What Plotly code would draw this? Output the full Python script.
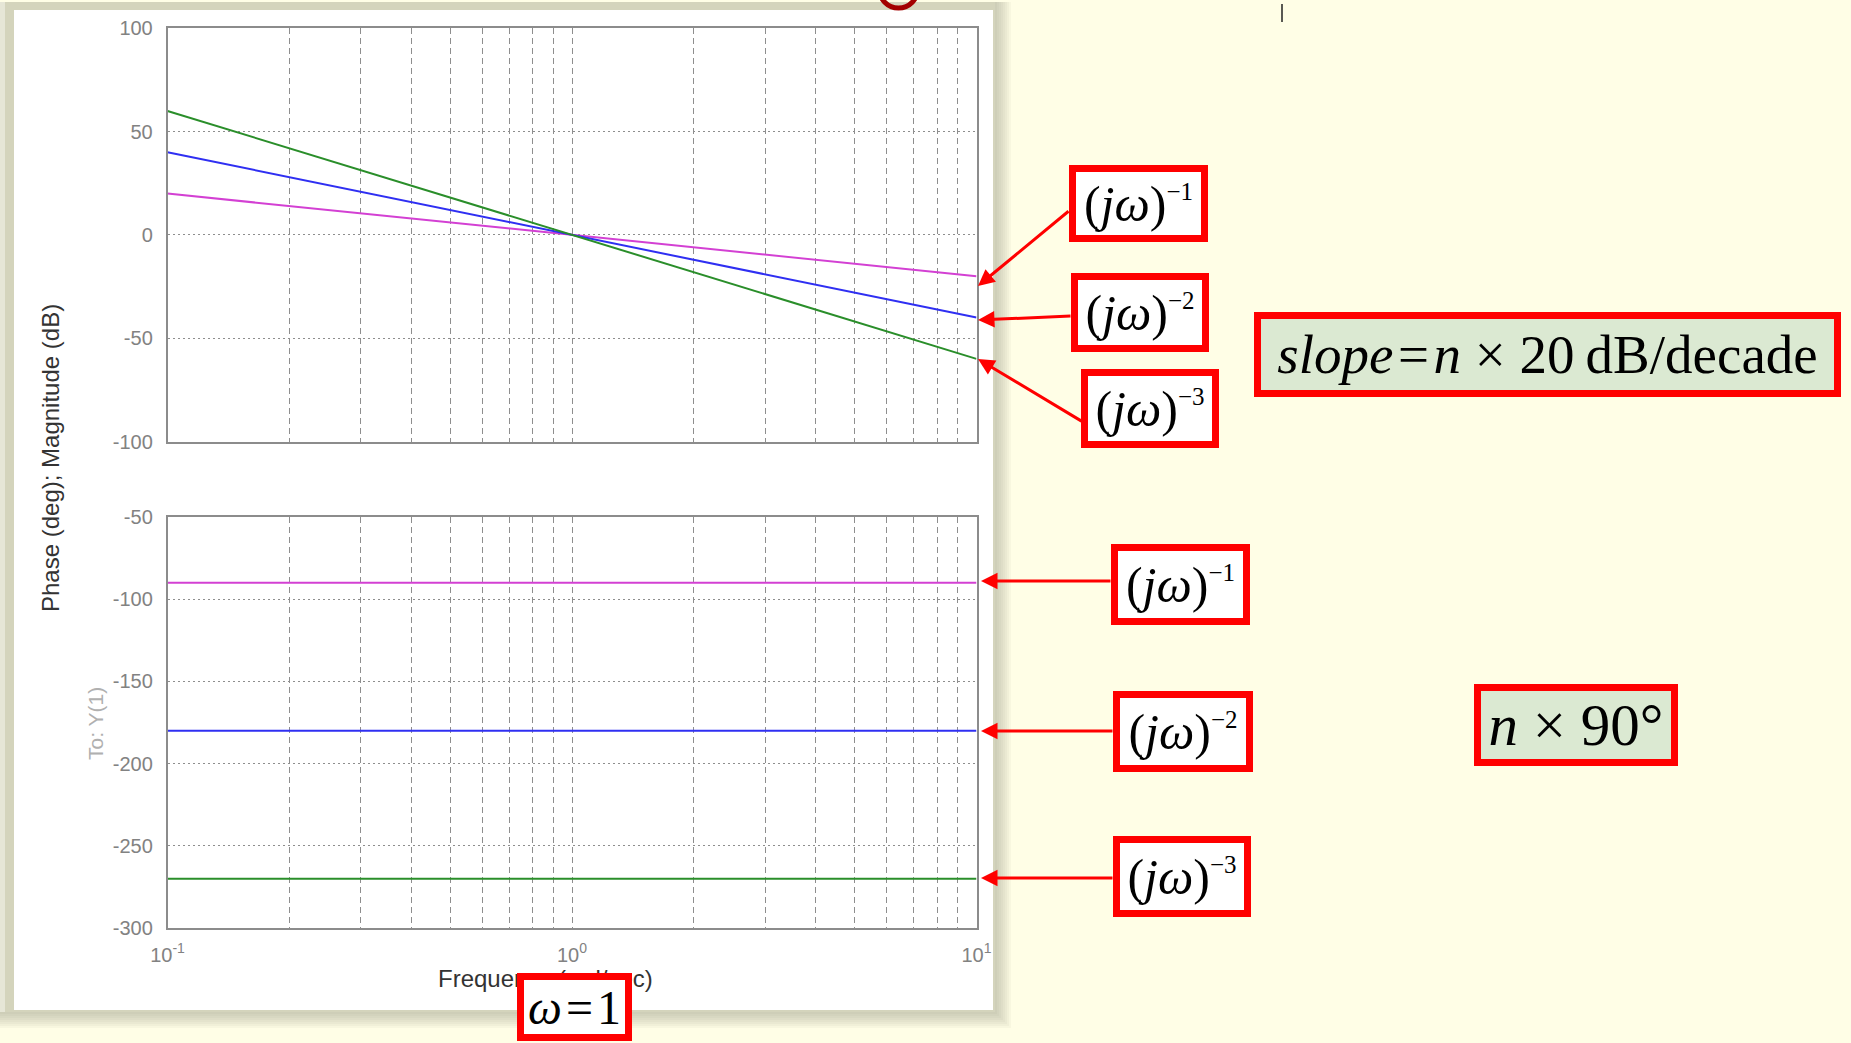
import plotly.graph_objects as go

W, H = 1851, 1043

# ---------------- data ----------------
freq = [0.1, 1, 10]                 # rad/sec
mag_n1 = [20, 0, -20]               # (jw)^-1, dB
mag_n2 = [40, 0, -40]               # (jw)^-2, dB
mag_n3 = [60, 0, -60]               # (jw)^-3, dB
phase_freq = [0.1, 10]
phase_n1 = [-90, -90]               # deg
phase_n2 = [-180, -180]
phase_n3 = [-270, -270]
series_names = ["(jω)^-1", "(jω)^-2", "(jω)^-3"]
series_colors = ["#d340d3", "#2f2ff2", "#2a8e2a"]

mag_ticks = [-100, -50, 0, 50, 100]
mag_tick_text = ["-100", "-50", "0", "50", "100"]
phase_ticks = [-300, -250, -200, -150, -100, -50]
phase_tick_text = ["-300", "-250", "-200", "-150", "-100", "-50"]
x_major = [0.1, 1, 10]
x_major_text = ["10<sup>-1</sup>", "10<sup>0</sup>", "10<sup>1</sup>"]
x_minor = [0.2, 0.3, 0.4, 0.5, 0.6, 0.7, 0.8, 0.9,
           2, 3, 4, 5, 6, 7, 8, 9]

y_title = "Phase (deg); Magnitude (dB)"
x_title = "Frequency (rad/sec)"
out_label = "To: Y(1)"
slope_text = "<i>slope</i>\u200a=\u200a<i>n</i> × 20\u2009dB/decade"
phase_text = "<i>n</i> × 90°"
omega_text = "<i>ω</i>\u200a=\u200a1"


def px(x):
    return x / W


def py(y):
    return 1 - y / H


fig = go.Figure()

mags = [mag_n1, mag_n2, mag_n3]
phases = [phase_n1, phase_n2, phase_n3]
for name, col, m in zip(series_names, series_colors, mags):
    fig.add_trace(go.Scatter(x=freq, y=m, mode="lines", name=name,
                             line=dict(color=col, width=2),
                             xaxis="x", yaxis="y", showlegend=False))
for name, col, p in zip(series_names, series_colors, phases):
    fig.add_trace(go.Scatter(x=phase_freq, y=p, mode="lines", name=name,
                             line=dict(color=col, width=2),
                             xaxis="x2", yaxis="y2", showlegend=False))

xdom = [px(167.5), px(976.5)]
ydom1 = [py(441.5), py(28.3)]
ydom2 = [py(928), py(517)]

GRID = "#8e8e8e"
tickfont = dict(family="Liberation Sans", size=20, color="#828282")
common_x = dict(type="log", range=[-1, 1], domain=xdom,
                tickvals=x_major, showgrid=True, gridcolor=GRID,
                gridwidth=1, griddash="6px,4px", showline=True,
                linecolor="#8c8c8c", linewidth=1.5, mirror=True,
                zeroline=False, ticks="", tickfont=tickfont,
                ticklabelstandoff=8,
                minor=dict(tickvals=x_minor, showgrid=True, gridcolor=GRID,
                           gridwidth=1, griddash="6px,4px", ticks=""))
common_y = dict(showgrid=True, gridcolor=GRID, gridwidth=1,
                griddash="2px,3px", showline=True, linecolor="#8c8c8c",
                linewidth=1.5, mirror=True, zeroline=False, ticks="",
                tickfont=tickfont, ticklabelstandoff=9)

fig.update_layout(
    width=W, height=H,
    margin=dict(l=0, r=0, t=0, b=0, pad=0, autoexpand=False),
    paper_bgcolor="#fffee6",
    plot_bgcolor="white",
    xaxis=dict(anchor="y", showticklabels=False, **common_x),
    xaxis2=dict(anchor="y2", ticktext=x_major_text, **common_x),
    yaxis=dict(anchor="x", domain=ydom1, range=[-100, 100],
               tickvals=mag_ticks, ticktext=mag_tick_text, **common_y),
    yaxis2=dict(anchor="x2", domain=ydom2, range=[-300, -50],
                tickvals=phase_ticks, ticktext=phase_tick_text, **common_y),
)

shapes = []
# frame / window shadow
for k in range(1, 10):
    shapes.append(dict(type="rect", xref="paper", yref="paper",
                       x0=px(0), x1=px(993 + 2 * k), y0=py(1010 + 2 * k), y1=py(2),
                       fillcolor="#8e8e70", opacity=0.06, line=dict(width=0),
                       layer="below"))
shapes.append(dict(type="rect", xref="paper", yref="paper",
                   x0=px(0), x1=px(995), y0=py(1012), y1=py(2),
                   fillcolor="#d4d4bc", line=dict(width=0), layer="below"))
shapes.append(dict(type="rect", xref="paper", yref="paper",
                   x0=px(0), x1=px(5), y0=py(1012), y1=py(2),
                   fillcolor="#e6e6d6", line=dict(width=0), layer="below"))
shapes.append(dict(type="rect", xref="paper", yref="paper",
                   x0=px(14), x1=px(993), y0=py(1010), y1=py(10),
                   fillcolor="white", line=dict(width=0), layer="below"))
# red ring fragment at the top
shapes.append(dict(type="circle", xref="paper", yref="paper",
                   x0=px(879), x1=px(918), y0=py(8), y1=py(-32),
                   line=dict(color="#a30000", width=5), layer="above"))
# text cursor
shapes.append(dict(type="line", xref="paper", yref="paper",
                   x0=px(1282), x1=px(1282), y0=py(22), y1=py(4),
                   line=dict(color="#222222", width=1.5)))
fig.update_layout(shapes=shapes)

ann = []
# axis labels
ann.append(dict(text=y_title, x=px(51), y=py(458), xref="paper", yref="paper",
                xanchor="center", yanchor="middle",
                textangle=-90, showarrow=False,
                font=dict(family="Liberation Sans", size=24, color="#333333")))
ann.append(dict(text=out_label, x=px(95), y=py(724), xref="paper", yref="paper",
                xanchor="center", yanchor="middle",
                textangle=-90, showarrow=False,
                font=dict(family="Liberation Sans", size=21, color="#b0b0b0")))
ann.append(dict(text=x_title, x=px(545), y=py(978), xref="paper", yref="paper",
                xanchor="center", yanchor="middle", showarrow=False,
                font=dict(family="Liberation Sans", size=24, color="#333333")))

# arrows: (tip_x, tip_y, tail_x, tail_y)
arrows = [
    (978, 286, 1070, 210),
    (978, 320, 1072, 316),
    (978, 359, 1083, 422),
    (981, 581, 1112, 581),
    (981, 731, 1114, 731),
    (981, 878, 1114, 878),
]
for tx, ty, sx, sy in arrows:
    ann.append(dict(text="", x=px(tx), y=py(ty), xref="paper", yref="paper",
                    ax=sx - tx, ay=sy - ty, axref="pixel", ayref="pixel",
                    showarrow=True, arrowhead=2, arrowsize=1.1, arrowwidth=3,
                    arrowcolor="#ff0000"))


def jw(n):
    return ("(<i>j</i><i>ω</i>)<sup><span style='font-size:25px'>−%d</span></sup>" % n)


BW = 7
# boxes: (text, x0, x1, y0, y1, fill, fontsize)
boxes = [
    (jw(1), 1069, 1208, 165, 242, "white", 50),
    (jw(2), 1071, 1209, 273, 352, "white", 50),
    (jw(3), 1081, 1219, 369, 448, "white", 50),
    (slope_text, 1254, 1841, 312, 397, "#dbe9d2", 55),
    (jw(1), 1111, 1250, 544, 625, "white", 50),
    (jw(2), 1113, 1253, 691, 772, "white", 50),
    (jw(3), 1113, 1251, 836, 917, "white", 50),
    (phase_text, 1474, 1678, 684, 766, "#dbe9d2", 59),
    (omega_text, 517, 632, 973, 1041, "white", 48),
]
for t, x0, x1, y0, y1, fill, fs in boxes:
    ann.append(dict(text=t, x=px((x0 + x1) / 2), y=py((y0 + y1) / 2),
                    xref="paper", yref="paper", xanchor="center",
                    yanchor="middle", showarrow=False,
                    width=(x1 - x0) - 2 * BW, height=(y1 - y0) - 2 * BW,
                    bordercolor="#ff0000", borderwidth=BW, borderpad=0,
                    bgcolor=fill, valign="middle", align="center",
                    font=dict(family="Liberation Serif", size=fs, color="black")))

fig.update_layout(annotations=ann)
fig.write_html("out.html")
